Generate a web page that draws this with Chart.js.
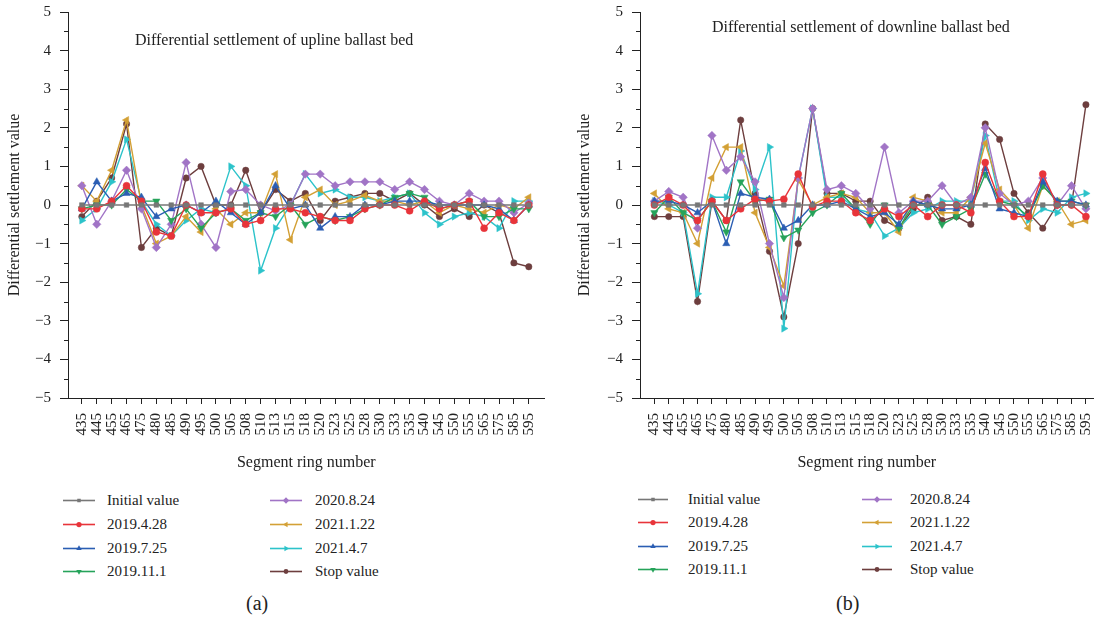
<!DOCTYPE html>
<html>
<head>
<meta charset="utf-8">
<script src="https://cdn.jsdelivr.net/npm/chart.js@4.4.0/dist/chart.umd.min.js"></script>
<style>
	body { margin: 0; background: #fff; font-family: 'Liberation Serif', 'DejaVu Serif', serif; color: #222; }
	#page { position: relative; width: 1113px; height: 622px; overflow: hidden; }
	canvas { position: absolute; top: 0; }
	.inTitle { position: absolute; font-size: 16px; white-space: nowrap; line-height: 18px; }
	.legend { position: absolute; font-size: 15px; }
	.legend .item { position: absolute; height: 18px; white-space: nowrap; }
	.legend .item canvas { position: absolute; left: 0; top: 3px; }
	.legend .item span { position: absolute; top: 0; line-height: 18px; }
	.cap { position: absolute; font-size: 20px; top: 592px; }
</style>
</head>
<body>
<div id="page">
	<canvas id="upChart" width="556" height="476" style="left:0"></canvas>
	<canvas id="downChart" width="543" height="476" style="left:570px"></canvas>
	<div class="inTitle" style="left:135px; top:31px">Differential settlement of upline ballast bed</div>
	<div class="inTitle" style="left:712px; top:18px">Differential settlement of downline ballast bed</div>
	<div class="legend" id="upLegend" style="left:63px; top:491px"></div>
	<div class="legend" id="downLegend" style="left:638px; top:490px"></div>
	<div class="cap" style="left:246px">(a)</div>
	<div class="cap" style="left:836px">(b)</div>
</div>
<script>
// segment ring numbers (x categories)
let rings = ['435','445','455','465','475','480','485','490','495','500','505','508','510','513','515','518',
	'520','523','525','528','530','533','535','540','545','550','555','565','575','585','595'];

let seriesNames = ['Initial value','2019.4.28','2019.7.25','2019.11.1','2020.8.24','2021.1.22','2021.4.7','Stop value'];

// upline ballast bed
let upInitial = [0,0,0,0,0,0,0,0,0,0,0,0,0,0,0,0,0,0,0,0,0,0,0,0,0,0,0,0,0,0,0];
let upApr19 = [-0.1,-0.1,0.1,0.5,0.1,-0.7,-0.8,0.0,-0.2,-0.2,-0.1,-0.5,-0.4,-0.1,-0.1,-0.2,-0.3,-0.4,-0.4,-0.1,0.0,0.0,-0.15,0.1,-0.1,0.0,0.1,-0.6,-0.2,-0.4,0.0];
let upJul19 = [-0.1,0.6,0.1,0.3,0.2,-0.3,-0.1,0.0,-0.2,0.1,-0.2,-0.5,-0.2,0.5,-0.1,0.0,-0.6,-0.3,-0.3,0.0,0.0,0.1,0.1,0.1,0.0,0.0,0.0,0.0,-0.1,-0.4,0.0];
let upNov19 = [-0.1,0.0,0.0,0.4,0.1,0.1,-0.4,-0.1,-0.6,-0.2,-0.1,-0.4,-0.2,-0.3,0.0,-0.5,-0.3,-0.4,-0.3,-0.1,0.0,0.2,0.3,0.2,-0.1,0.0,0.1,-0.3,-0.3,-0.1,-0.1];
let upAug20 = [0.5,-0.5,0.1,0.9,-0.1,-1.1,-0.5,1.1,-0.5,-1.1,0.35,0.4,0.0,-0.15,0.0,0.8,0.8,0.5,0.6,0.6,0.6,0.4,0.6,0.4,0.1,0.0,0.3,0.1,0.1,-0.2,0.05];
let upJan21 = [0.5,0.1,0.9,2.2,0.0,-1.0,-0.8,-0.3,-0.7,-0.1,-0.5,-0.2,-0.2,0.8,-0.9,0.2,0.4,0.0,0.1,0.25,0.1,0.1,0.0,0.1,-0.2,0.0,-0.1,-0.2,0.0,-0.1,0.2];
let upApr21 = [-0.4,-0.1,0.6,1.7,0.1,-0.5,-0.8,-0.4,-0.1,-0.2,1.0,0.5,-1.7,-0.6,0.0,0.8,0.3,0.4,0.2,0.2,0.1,0.2,0.3,-0.2,-0.5,-0.3,-0.2,-0.3,-0.6,0.1,0.1];
let upStop = [-0.3,0.1,0.7,2.1,-1.1,-0.6,-0.8,0.7,1.0,0.0,0.0,0.9,-0.2,0.4,0.1,0.3,-0.4,0.1,0.2,0.3,0.3,0.1,0.3,0.0,-0.3,-0.1,-0.3,0.0,-0.2,-1.5,-1.6];

// downline ballast bed
let dnInitial = [0,0,0,0,0,0,0,0,0,0,0,0,0,0,0,0,0,0,0,0,0,0,0,0,0,0,0,0,0,0,0];
let dnApr19 = [0.0,0.2,0.0,-0.4,0.1,-0.4,-0.1,0.15,0.1,0.15,0.8,-0.05,0.1,0.1,-0.2,-0.4,-0.1,-0.3,0.0,-0.3,0.0,0.0,-0.2,1.1,0.1,-0.3,-0.3,0.8,0.0,0.0,-0.3];
let dnJul19 = [0.1,0.1,0.0,-0.2,0.1,-1.0,0.3,0.2,0.15,-0.6,-0.4,0.0,0.0,0.1,-0.1,-0.3,-0.2,-0.5,0.1,0.0,-0.1,-0.1,0.0,0.95,-0.1,-0.2,-0.3,0.6,0.1,0.1,0.0];
let dnNov19 = [-0.2,0.2,-0.2,-0.4,0.1,-0.7,0.6,0.1,0.15,-0.85,-0.65,-0.2,0.0,0.3,-0.1,-0.5,0.0,-0.6,0.0,0.0,-0.5,-0.3,-0.1,0.8,0.1,0.0,-0.3,0.5,0.1,0.1,0.0];
let dnAug20 = [0.1,0.35,0.2,-0.6,1.8,0.9,1.25,0.6,-1.0,-2.4,0.7,2.5,0.4,0.5,0.3,-0.1,1.5,-0.2,0.1,0.1,0.5,0.0,0.2,2.0,0.3,0.0,0.1,0.7,0.0,0.5,-0.1];
let dnJan21 = [0.3,-0.1,-0.2,-1.0,0.7,1.5,1.5,-0.2,-1.1,-2.1,0.65,0.0,0.2,0.3,0.2,-0.2,-0.2,-0.7,0.2,0.1,-0.2,-0.2,0.2,1.6,0.4,0.0,-0.6,0.5,0.1,-0.5,-0.4];
let dnApr21 = [0.1,0.0,-0.2,-2.3,0.2,0.2,1.4,0.4,1.5,-3.2,0.7,2.5,0.2,0.2,-0.1,-0.2,-0.8,-0.6,-0.2,-0.1,0.1,0.1,0.1,1.8,0.1,0.1,-0.4,-0.1,-0.2,0.2,0.3];
let dnStop = [-0.3,-0.3,-0.3,-2.5,0.1,-0.4,2.2,0.3,-1.2,-2.9,-1.0,2.5,0.3,0.3,0.1,0.1,-0.4,-0.6,-0.1,0.2,-0.4,-0.3,-0.5,2.1,1.7,0.3,-0.2,-0.6,0.0,0.0,2.6];

let yTicks = [-5,-4,-3,-2,-1,0,1,2,3,4,5];

let styles = [
	{ color: '#777777', point: 'rect', radius: 3.3, rotation: 0 },
	{ color: '#e8343a', point: 'circle', radius: 3.5, rotation: 0 },
	{ color: '#2b5eb3', point: 'triangle', radius: 4.2, rotation: 0 },
	{ color: '#26a35a', point: 'triangle', radius: 4.2, rotation: 180 },
	{ color: '#a174c6', point: 'rectRot', radius: 4.2, rotation: 0 },
	{ color: '#d3a035', point: 'triangle', radius: 4.2, rotation: -90 },
	{ color: '#2cc3ca', point: 'triangle', radius: 4.2, rotation: 90 },
	{ color: '#6d3e3e', point: 'circle', radius: 3.2, rotation: 0 }
];

const FONT = "'Liberation Serif', 'DejaVu Serif', serif";

function makeDatasets(list) {
	return list.map(function (values, i) {
		let s = styles[i];
		return {
			label: seriesNames[i],
			data: values.map(function (v, k) { return { x: k, y: v }; }),
			borderColor: s.color,
			backgroundColor: s.color,
			borderWidth: 1.4,
			pointStyle: s.point,
			pointRadius: s.radius,
			pointRotation: s.rotation,
			pointBorderWidth: 0.5,
			pointHoverRadius: s.radius,
			tension: 0
		};
	});
}

// minor ticks on the y axis (every 0.5)
const minorTicks = {
	id: 'minorTicks',
	afterDraw: function (chart) {
		let y = chart.scales.y;
		let ctx = chart.ctx;
		ctx.save();
		ctx.strokeStyle = '#222';
		ctx.lineWidth = 1;
		for (let v = -4.5; v < 5; v += 1) {
			let py = Math.round(y.getPixelForValue(v)) + 0.5;
			ctx.beginPath();
			ctx.moveTo(y.right - 4, py);
			ctx.lineTo(y.right, py);
			ctx.stroke();
		}
		ctx.restore();
	}
};

function makeChart(id, list, yWidth, xMin, xMax, padRight) {
	return new Chart(id, {
		type: 'line',
		data: { datasets: makeDatasets(list) },
		plugins: [minorTicks],
		options: {
			responsive: false,
			animation: false,
			devicePixelRatio: 1,
			layout: { padding: { top: 12, right: padRight, left: 0, bottom: 0 } },
			plugins: { legend: { display: false }, tooltip: { enabled: false } },
			scales: {
				x: {
					type: 'linear',
					min: xMin,
					max: xMax,
					afterBuildTicks: function (scale) {
						scale.ticks = rings.map(function (r, k) { return { value: k }; });
					},
					afterFit: function (scale) { scale.height = 78; },
					ticks: {
						autoSkip: false,
						minRotation: 90,
						maxRotation: 90,
						padding: 9,
						color: '#222',
						font: { family: FONT, size: 15 },
						callback: function (v) { return rings[v] !== undefined ? rings[v] : ''; }
					},
					grid: { drawOnChartArea: false, drawTicks: true, tickLength: 6, color: '#222' },
					border: { display: true, color: '#222', width: 1 },
					title: { display: true, text: 'Segment ring number', color: '#222', font: { family: FONT, size: 16 }, padding: { top: 0, bottom: 4 } }
				},
				y: {
					min: -5,
					max: 5,
					afterBuildTicks: function (scale) {
						scale.ticks = yTicks.map(function (v) { return { value: v }; });
					},
					afterFit: function (scale) {
						scale.width = yWidth;
						scale.paddingTop = 0;
						scale.paddingBottom = 0;
					},
					ticks: {
						padding: 9,
						color: '#222',
						font: { family: FONT, size: 15 },
						callback: function (v) { return String(v).replace('-', '\u2212'); }
					},
					grid: { drawOnChartArea: false, drawTicks: true, tickLength: 8, color: '#222' },
					border: { display: true, color: '#222', width: 1 },
					title: { display: true, text: 'Differential settlement value', color: '#222', font: { family: FONT, size: 16 }, padding: { top: 5, bottom: 0 } }
				}
			}
		}
	});
}

function buildLegend(elId, colX, rowY, textOff, lineW) {
	let box = document.getElementById(elId);
	seriesNames.forEach(function (name, i) {
		let col = i < 4 ? 0 : 1;
		let row = i % 4;
		let s = styles[i];
		let item = document.createElement('div');
		item.className = 'item';
		item.style.left = colX[col] + 'px';
		item.style.top = rowY[row] + 'px';
		let c = document.createElement('canvas');
		c.width = lineW;
		c.height = 12;
		let ctx = c.getContext('2d');
		ctx.strokeStyle = s.color;
		ctx.lineWidth = 1.6;
		ctx.beginPath();
		ctx.moveTo(0, 6.5);
		ctx.lineTo(lineW, 6.5);
		ctx.stroke();
		ctx.fillStyle = s.color;
		if (Chart.helpers && Chart.helpers.drawPoint) {
			Chart.helpers.drawPoint(ctx, { pointStyle: s.point, radius: s.radius * 0.75, rotation: s.rotation, borderWidth: 0 }, lineW / 2, 6.5);
		}
		item.appendChild(c);
		let t = document.createElement('span');
		t.textContent = name;
		t.style.left = textOff[col] + 'px';
		item.appendChild(t);
		box.appendChild(item);
	});
}

makeChart('upChart', [upInitial, upApr19, upJul19, upNov19, upAug20, upJan21, upApr21, upStop], 68, -0.93, 31.06, 6);
makeChart('downChart', [dnInitial, dnApr19, dnJul19, dnNov19, dnAug20, dnJan21, dnApr21, dnStop], 70, -1.0, 30.53, 0);

buildLegend('upLegend', [0, 207], [0, 24, 48, 71], [44, 45], 32);
buildLegend('downLegend', [0, 224], [0, 23, 47, 70], [50, 48], 30);
</script>
</body>
</html>
